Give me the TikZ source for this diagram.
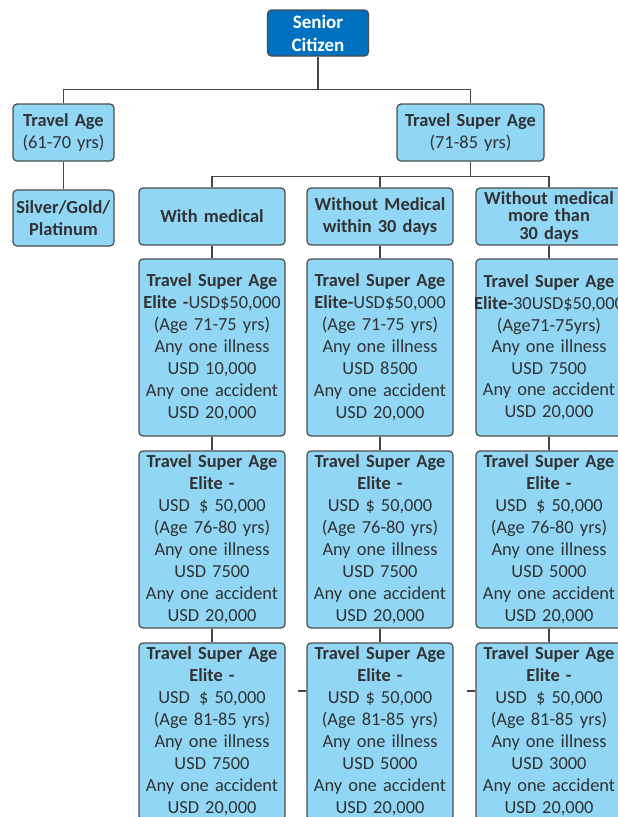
\documentclass[tikz,border=0pt]{standalone}
\usepackage{fontspec}
\setmainfont{Carlito}
\definecolor{boxblue}{RGB}{145,215,245}
\definecolor{rootblue}{RGB}{0,112,192}
\definecolor{bordergray}{RGB}{75,75,75}
\definecolor{textgray}{RGB}{50,50,50}
\definecolor{linegray}{RGB}{70,70,70}
\newcommand\boxfont{\fontsize{18.4}{22}\selectfont}
\newcommand\tightfont{\fontsize{18.4}{17.5}\selectfont}
\begin{document}
\begin{tikzpicture}[x=1pt,y=1pt,
  box/.style={draw=bordergray, line width=1.2pt, fill=boxblue, rounded corners=4pt,
    inner sep=0pt, align=center, text=textgray, font=\boxfont},
  hdr/.style={box, minimum width=146pt, text width=146pt, minimum height=57pt},
  small/.style={box, minimum width=101pt, text width=101pt, minimum height=57pt},
  leaf/.style={box, minimum width=146pt, text width=146pt, minimum height=177pt},
  rootbox/.style={draw=bordergray, line width=1.2pt, fill=rootblue, rounded corners=4pt,
    inner sep=0pt, align=center, text=white, font=\fontsize{19}{23}\selectfont\bfseries,
    minimum width=101pt, text width=101pt, minimum height=46pt},
  conn/.style={draw=linegray, line width=1.2pt}]
\useasboundingbox (0,0) rectangle (618,-817);
\clip (0,0) rectangle (618,-817);
% nodes
\node[rootbox] (root) at (318,-33) {Senior\\Citizen};
\node[small] (ta) at (63.5,-132.5) {\textbf{Travel Age}\\(61-70 yrs)};
\node[box, minimum width=147pt, text width=147pt, minimum height=57pt] (tsa) at (470.5,-132.5) {\textbf{Travel Super Age}\\(71-85 yrs)};
\node[small, minimum height=56pt] (sgp) at (63.5,-218) {\textbf{Silver/Gold/}\\\textbf{Platinum}};
\node[hdr] (wm) at (212,-216.5) {\textbf{With medical}};
\node[hdr] (wo) at (380,-216.5) {\textbf{Without Medical}\\\textbf{within 30 days}};
\node[hdr, font=\tightfont] (wl) at (549,-216.5) {\textbf{Without medical}\\\textbf{more than}\\\textbf{30 days}};
% row 1
\node[leaf] (a1) at (212,-347.5) {\textbf{Travel Super Age}\\\textbf{Elite -}USD\$50,000\\(Age 71-75 yrs)\\Any one illness\\USD 10,000\\Any one accident\\USD 20,000};
\node[leaf] (b1) at (380,-347.5) {\textbf{Travel Super Age}\\\textbf{Elite-}USD\$50,000\\(Age 71-75 yrs)\\Any one illness\\USD 8500\\Any one accident\\USD 20,000};
\node[leaf, font=\fontsize{18.4}{21.6}\selectfont] (c1) at (549,-347.5) {\textbf{Travel Super Age}\\\makebox[146pt][c]{\textbf{Elite-}30USD\$50,000}\\(Age71-75yrs)\\Any one illness\\USD 7500\\Any one accident\\USD 20,000};
% row 2
\node[leaf] (a2) at (212,-539.5) {\textbf{Travel Super Age}\\\textbf{Elite -}\\USD\enspace\$ 50,000\\(Age 76-80 yrs)\\Any one illness\\USD 7500\\Any one accident\\USD 20,000};
\node[leaf] (b2) at (380,-539.5) {\textbf{Travel Super Age}\\\textbf{Elite -}\\USD \$ 50,000\\(Age 76-80 yrs)\\Any one illness\\USD 7500\\Any one accident\\USD 20,000};
\node[leaf] (c2) at (549,-539.5) {\textbf{Travel Super Age}\\\textbf{Elite -}\\USD\enspace\$ 50,000\\(Age 76-80 yrs)\\Any one illness\\USD 5000\\Any one accident\\USD 20,000};
% row 3
\node[leaf] (a3) at (212,-731.5) {\textbf{Travel Super Age}\\\textbf{Elite -}\\USD\enspace\$ 50,000\\(Age 81-85 yrs)\\Any one illness\\USD 7500\\Any one accident\\USD 20,000};
\node[leaf] (b3) at (380,-731.5) {\textbf{Travel Super Age}\\\textbf{Elite -}\\USD \$ 50,000\\(Age 81-85 yrs)\\Any one illness\\USD 5000\\Any one accident\\USD 20,000};
\node[leaf] (c3) at (549,-731.5) {\textbf{Travel Super Age}\\\textbf{Elite -}\\USD\enspace\$ 50,000\\(Age 81-85 yrs)\\Any one illness\\USD 3000\\Any one accident\\USD 20,000};
% connectors
\draw[conn] (root.south) -- ++(0,-33) -| (ta.north);
\draw[conn] (root.south) -- ++(0,-33) -| (tsa.north);
\draw[conn] (ta.south) -- (sgp.north);
\draw[conn] (tsa.south) -- ++(0,-15) -| (wm.north);
\draw[conn] (tsa.south) -- ++(0,-15) -| (wo.north);
\draw[conn] (tsa.south) -- ++(0,-15) -| (wl.north);
\draw[conn] (wm.south) -- (a1.north);
\draw[conn] (wo.south) -- (b1.north);
\draw[conn] (wl.south) -- (c1.north);
\draw[conn] (a1.south) -- (a2.north);
\draw[conn] (b1.south) -- (b2.north);
\draw[conn] (c1.south) -- (c2.north);
\draw[conn] (a2.south) -- (a3.north);
\draw[conn] (b2.south) -- (b3.north);
\draw[conn] (c2.south) -- (c3.north);
\coordinate (s1) at (298,-691);
\coordinate (s2) at (467,-691);
\draw[conn] (s1) -- (b3.west |- s1);
\draw[conn] (s2) -- (c3.west |- s2);
\end{tikzpicture}
\end{document}
